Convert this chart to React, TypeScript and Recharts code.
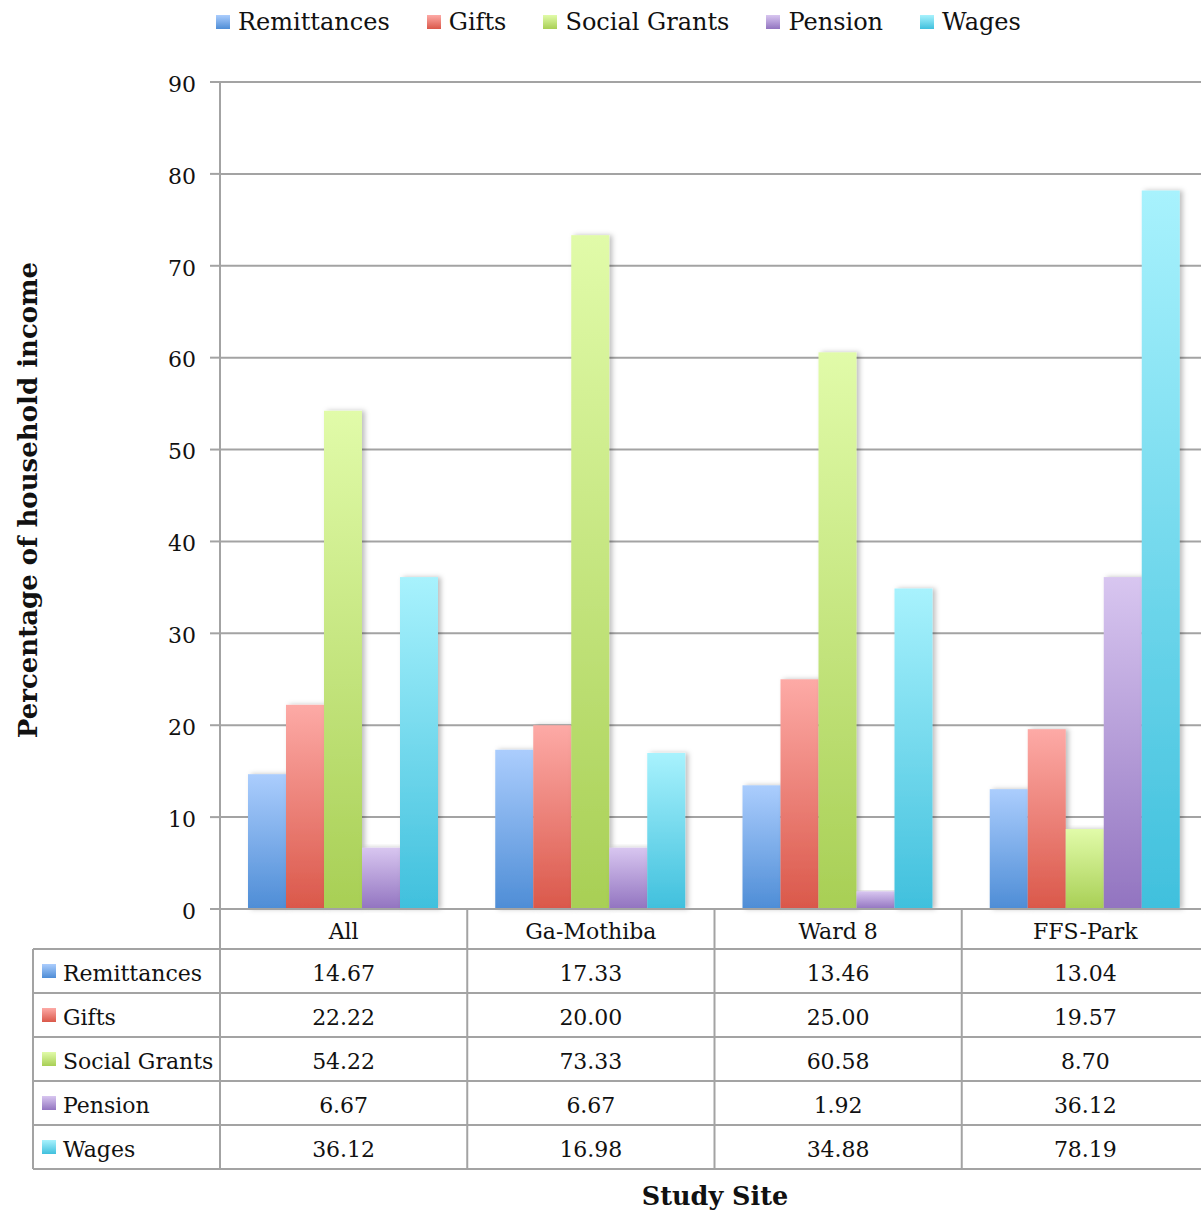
import React from 'react';
import { BarChart, Bar, XAxis, YAxis, CartesianGrid, Customized } from 'recharts';

const categories = ['All', 'Ga-Mothiba', 'Ward 8', 'FFS-Park'];
const remittances = [14.67, 17.33, 13.46, 13.04];
const gifts = [22.22, 20.0, 25.0, 19.57];
const socialGrants = [54.22, 73.33, 60.58, 8.7];
const pension = [6.67, 6.67, 1.92, 36.12];
const wages = [36.12, 16.98, 34.88, 78.19];
const yTicks = [0, 10, 20, 30, 40, 50, 60, 70, 80, 90];

const series = [
  { key: 'remittances', name: 'Remittances', values: remittances, top: '#abcdfd', bottom: '#4e8dd6' },
  { key: 'gifts', name: 'Gifts', values: gifts, top: '#fdaaa6', bottom: '#da584a' },
  { key: 'socialGrants', name: 'Social Grants', values: socialGrants, top: '#e1fba9', bottom: '#a8cf55' },
  { key: 'pension', name: 'Pension', values: pension, top: '#d8c6f0', bottom: '#9274c0' },
  { key: 'wages', name: 'Wages', values: wages, top: '#a8f2fd', bottom: '#40c0dd' },
];

const data = categories.map((site, i) => {
  const row: any = { site };
  series.forEach((s) => { row[s.key] = s.values[i]; });
  return row;
});

const W = 1201;
const H = 1211;
// the plot runs a little past the right edge of the picture
const CHART_W = 1209;
const PLOT_LEFT = 220;
const PLOT_BOTTOM = 909;
const BAND = (CHART_W - PLOT_LEFT) / categories.length;
const HEADER_H = 40;
const ROW_H = 44;
const TABLE_BOTTOM = PLOT_BOTTOM + HEADER_H + ROW_H * series.length;
const FONT = '"DejaVu Serif", serif';
const GRID = '#a3a3a3';

function TableTick(props: any) {
  const { x, payload, index } = props;
  return (
    <g>
      <line x1={x - BAND / 2} x2={x - BAND / 2} y1={PLOT_BOTTOM} y2={TABLE_BOTTOM} stroke={GRID} strokeWidth={2} />
      <text x={x} y={PLOT_BOTTOM + 30} textAnchor="middle" fontFamily={FONT} fontSize={22} fill="#111">
        {payload.value}
      </text>
      {series.map((s, r) => (
        <text
          key={s.key}
          x={x}
          y={PLOT_BOTTOM + HEADER_H + ROW_H * r + 32}
          textAnchor="middle"
          fontFamily={FONT}
          fontSize={22}
          fill="#111"
        >
          {s.values[index].toFixed(2)}
        </text>
      ))}
    </g>
  );
}

function TableFrame() {
  const top = PLOT_BOTTOM + HEADER_H;
  return (
    <g>
      <line x1={33} x2={CHART_W} y1={top} y2={top} stroke={GRID} strokeWidth={2} />
      <line x1={33} x2={33} y1={top} y2={TABLE_BOTTOM} stroke={GRID} strokeWidth={2} />
      {series.map((s, r) => (
        <g key={s.key}>
          <line x1={33} x2={CHART_W} y1={top + ROW_H * r} y2={top + ROW_H * r} stroke={GRID} strokeWidth={2} />
          <rect x={42} y={top + ROW_H * r + 15} width={14} height={14} fill={`url(#grad-${s.key})`} />
          <text x={63} y={top + ROW_H * r + 32} fontFamily={FONT} fontSize={22} fill="#111">
            {s.name}
          </text>
        </g>
      ))}
      <line x1={33} x2={CHART_W} y1={TABLE_BOTTOM} y2={TABLE_BOTTOM} stroke={GRID} strokeWidth={2} />
      <text
        transform="translate(37, 500) rotate(-90)"
        textAnchor="middle"
        fontFamily={FONT}
        fontWeight="bold"
        fontSize={26}
        fill="#111"
      >
        Percentage of household income
      </text>
      <text x={715} y={1205} textAnchor="middle" fontFamily={FONT} fontWeight="bold" fontSize={25.5} fill="#111">
        Study Site
      </text>
    </g>
  );
}

function ShadowBar(props: any) {
  const { x, y, width, height, fill } = props;
  if (!height || height <= 0) return null;
  return <rect x={x} y={y} width={width} height={height} fill={fill} filter="url(#barShadow)" />;
}

function TopLegend() {
  return (
    <div
      style={{
        position: 'absolute',
        top: 8,
        left: 216,
        display: 'flex',
        fontFamily: FONT,
        fontSize: 24,
        color: '#111',
        whiteSpace: 'nowrap',
        zIndex: 1,
      }}
    >
      {series.map((s) => (
        <div key={s.key} style={{ display: 'flex', alignItems: 'center', marginRight: 37 }}>
          <span
            style={{
              display: 'inline-block',
              width: 14,
              height: 14,
              marginRight: 8,
              background: `linear-gradient(${s.top}, ${s.bottom})`,
            }}
          />
          <span>{s.name}</span>
        </div>
      ))}
    </div>
  );
}

export default function App() {
  return (
    <div style={{ position: 'absolute', left: 0, top: 0, width: W, height: H, overflow: 'hidden', background: '#fff' }}>
      <TopLegend />
      <BarChart
        width={CHART_W}
        height={H}
        data={data}
        margin={{ top: 82, right: 0, bottom: 42, left: 160 }}
        barCategoryGap={28}
        barGap={0}
      >
        <defs>
          {series.map((s) => (
            <linearGradient key={s.key} id={`grad-${s.key}`} x1="0" y1="0" x2="0" y2="1">
              <stop offset="0%" stopColor={s.top} />
              <stop offset="100%" stopColor={s.bottom} />
            </linearGradient>
          ))}
          <filter id="barShadow" x="-20%" y="-5%" width="150%" height="110%">
            <feDropShadow dx={3} dy={0} stdDeviation={2.5} floodColor="#000" floodOpacity={0.25} />
          </filter>
        </defs>
        <CartesianGrid horizontal vertical={false} stroke={GRID} strokeWidth={2} />
        <YAxis
          width={60}
          domain={[0, 90]}
          ticks={yTicks}
          interval={0}
          axisLine={{ stroke: GRID, strokeWidth: 2 }}
          tickLine={{ stroke: GRID, strokeWidth: 2 }}
          tickSize={10}
          tickMargin={14}
          tick={{ fill: '#111', fontSize: 22, fontFamily: FONT, dy: 2 }}
        />
        <XAxis
          dataKey="site"
          height={TABLE_BOTTOM - PLOT_BOTTOM}
          axisLine={{ stroke: GRID, strokeWidth: 2 }}
          tickLine={false}
          tickSize={0}
          interval={0}
          tick={<TableTick />}
        />
        {series.map((s) => (
          <Bar
            key={s.key}
            dataKey={s.key}
            name={s.name}
            fill={`url(#grad-${s.key})`}
            shape={<ShadowBar />}
            isAnimationActive={false}
          />
        ))}
        <Customized component={<TableFrame />} />
      </BarChart>
    </div>
  );
}
